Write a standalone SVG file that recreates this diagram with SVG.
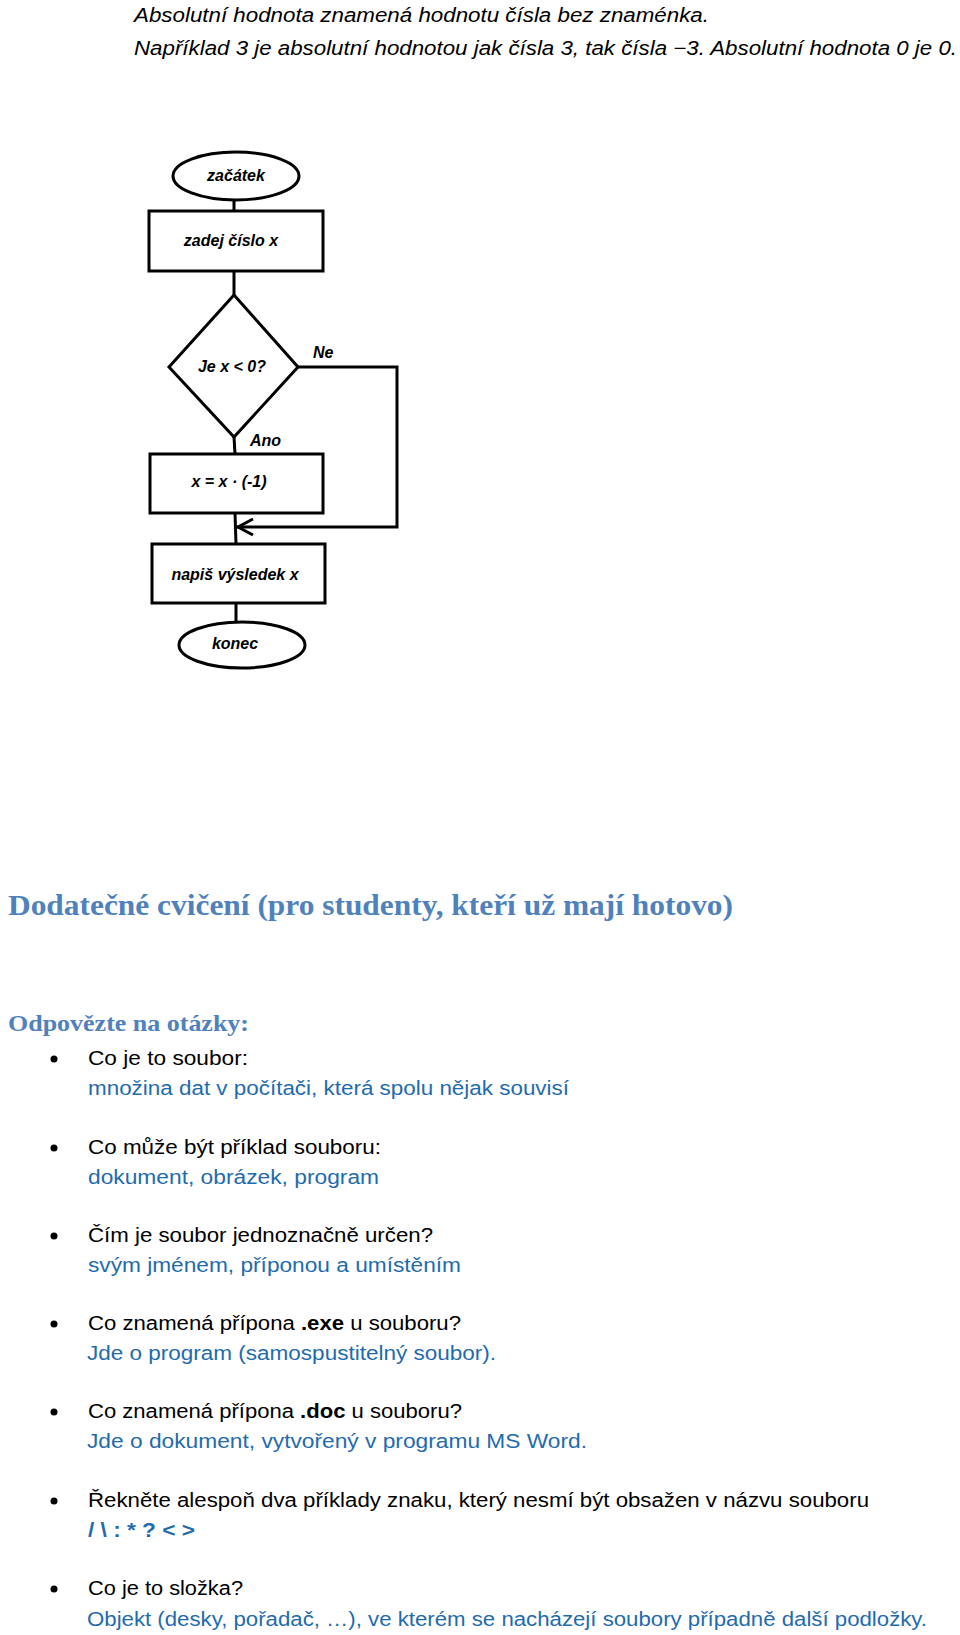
<svg xmlns="http://www.w3.org/2000/svg" width="960" height="1635" viewBox="0 0 960 1635">
<style>
.it{font-family:"Liberation Sans",Arial,sans-serif;font-style:italic;font-size:20px;fill:#000}
.fc{font-family:"Liberation Sans",Arial,sans-serif;font-style:italic;font-weight:bold;font-size:16px;fill:#000}
.shape{fill:#fff;stroke:#000;stroke-width:3}
.conn{fill:none;stroke:#000;stroke-width:3}
.h1{font-family:"Liberation Serif","Times New Roman",serif;font-weight:bold;font-size:30px;fill:#4f81bd}
.h2{font-family:"Liberation Serif","Times New Roman",serif;font-weight:bold;font-size:24px;fill:#4f81bd}
.q{font-family:"Liberation Sans",Arial,sans-serif;font-size:20px;fill:#000}
.a{font-family:"Liberation Sans",Arial,sans-serif;font-size:20px;fill:#1f6bae}
.b{font-weight:bold}
</style>
<rect width="960" height="1635" fill="#fff"/>
<text class="it" x="134" y="22" textLength="575" lengthAdjust="spacingAndGlyphs">Absolutní hodnota znamená hodnotu čísla bez znaménka.</text>
<text class="it" x="134" y="55" textLength="823" lengthAdjust="spacingAndGlyphs">Například 3 je absolutní hodnotou jak čísla 3, tak čísla −3. Absolutní hodnota 0 je 0.</text>

<g id="connectors">
<line class="conn" x1="234" y1="199" x2="234" y2="211"/>
<line class="conn" x1="234" y1="271" x2="234" y2="295"/>
<line class="conn" x1="234" y1="437" x2="235" y2="454"/>
<line class="conn" x1="235" y1="513" x2="236" y2="544"/>
<polyline class="conn" points="298,367 397,367 397,527 237,527"/>
<polyline class="conn" points="253,519 238,527 253,535"/>
<line class="conn" x1="236" y1="603" x2="236" y2="622"/>
<text class="fc" x="313" y="358">Ne</text>
<text class="fc" x="250" y="446">Ano</text>
</g>
<g id="start">
<ellipse class="shape" cx="236" cy="176" rx="63" ry="24"/>
<text class="fc" x="236" y="181" text-anchor="middle">začátek</text>
</g>
<g id="input">
<rect class="shape" x="149" y="211" width="174" height="60"/>
<text class="fc" x="231" y="246" text-anchor="middle">zadej číslo x</text>
</g>
<g id="decision">
<polygon class="shape" points="234,295 298,367 234,437 169,367"/>
<text class="fc" x="232" y="372" text-anchor="middle">Je x &lt; 0?</text>
</g>
<g id="negate">
<rect class="shape" x="150" y="454" width="173" height="59"/>
<text class="fc" x="229" y="487" text-anchor="middle">x = x · (-1)</text>
</g>
<g id="output">
<rect class="shape" x="152" y="544" width="173" height="59"/>
<text class="fc" x="235" y="580" text-anchor="middle">napiš výsledek x</text>
</g>
<g id="end">
<ellipse class="shape" cx="242" cy="645" rx="63" ry="23"/>
<text class="fc" x="235" y="649" text-anchor="middle">konec</text>
</g>

<text class="h1" x="8" y="915" textLength="725" lengthAdjust="spacingAndGlyphs">Dodatečné cvičení (pro studenty, kteří už mají hotovo)</text>
<text class="h2" x="8" y="1031" textLength="241" lengthAdjust="spacingAndGlyphs">Odpovězte na otázky:</text>

<g fill="#000">
<circle cx="54" cy="1059" r="3.5"/>
<circle cx="54" cy="1148" r="3.5"/>
<circle cx="54" cy="1236" r="3.5"/>
<circle cx="54" cy="1324" r="3.5"/>
<circle cx="54" cy="1412" r="3.5"/>
<circle cx="54" cy="1501" r="3.5"/>
<circle cx="54" cy="1589" r="3.5"/>
</g>

<text class="q" x="88" y="1065" textLength="160" lengthAdjust="spacingAndGlyphs">Co je to soubor:</text>
<text class="a" x="88" y="1095" textLength="481" lengthAdjust="spacingAndGlyphs">množina dat v počítači, která spolu nějak souvisí</text>

<text class="q" x="88" y="1154" textLength="293" lengthAdjust="spacingAndGlyphs">Co může být příklad souboru:</text>
<text class="a" x="88" y="1184" textLength="291" lengthAdjust="spacingAndGlyphs">dokument, obrázek, program</text>

<text class="q" x="88" y="1242" textLength="345" lengthAdjust="spacingAndGlyphs">Čím je soubor jednoznačně určen?</text>
<text class="a" x="88" y="1272" textLength="373" lengthAdjust="spacingAndGlyphs">svým jménem, příponou a umístěním</text>

<text class="q" x="88" y="1330" textLength="373" lengthAdjust="spacingAndGlyphs">Co znamená přípona <tspan class="b">.exe</tspan> u souboru?</text>
<text class="a" x="87" y="1360" textLength="409" lengthAdjust="spacingAndGlyphs">Jde o program (samospustitelný soubor).</text>

<text class="q" x="88" y="1418" textLength="374" lengthAdjust="spacingAndGlyphs">Co znamená přípona <tspan class="b">.doc</tspan> u souboru?</text>
<text class="a" x="87" y="1448" textLength="500" lengthAdjust="spacingAndGlyphs">Jde o dokument, vytvořený v programu MS Word.</text>

<text class="q" x="88" y="1507" textLength="781" lengthAdjust="spacingAndGlyphs">Řekněte alespoň dva příklady znaku, který nesmí být obsažen v názvu souboru</text>
<text class="a b" x="88" y="1537" textLength="107" lengthAdjust="spacingAndGlyphs">/ \ : * ? &lt; &gt;</text>

<text class="q" x="88" y="1595" textLength="155" lengthAdjust="spacingAndGlyphs">Co je to složka?</text>
<text class="a" x="87" y="1626" textLength="840" lengthAdjust="spacingAndGlyphs">Objekt (desky, pořadač, …), ve kterém se nacházejí soubory případně další podložky.</text>
</svg>
